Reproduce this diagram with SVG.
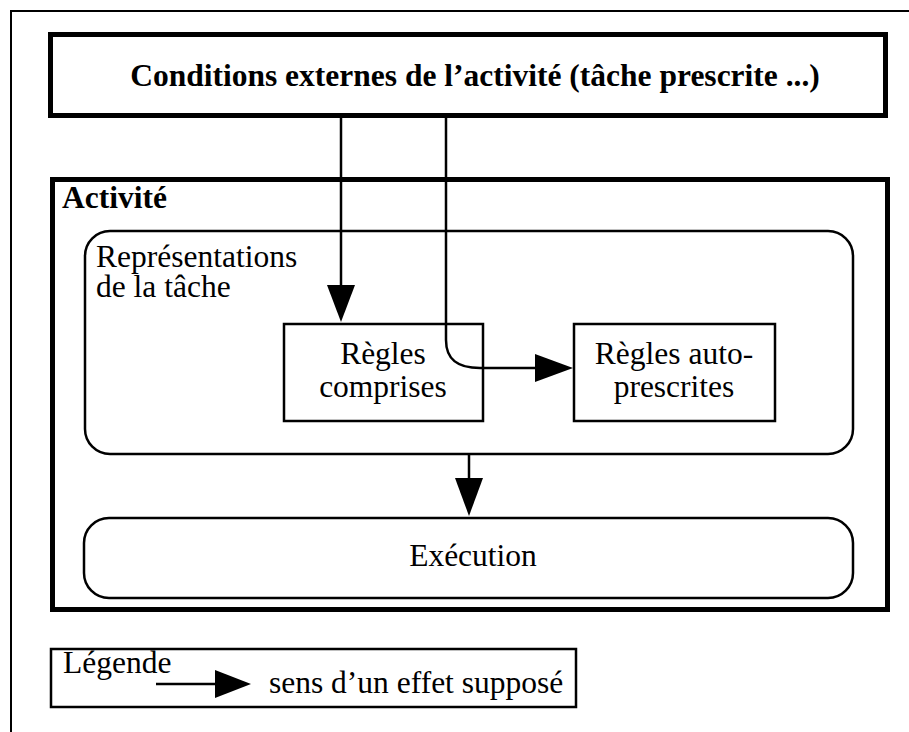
<svg xmlns="http://www.w3.org/2000/svg" width="909" height="732" viewBox="0 0 909 732">
<style>
text{font-family:"Liberation Serif","Times New Roman",serif;font-size:31.5px;fill:#000}
.b{font-weight:bold}
.m{text-anchor:middle}
.thick{fill:#fff;stroke:#000;stroke-width:5}
.thin{fill:#fff;stroke:#000;stroke-width:2.5}
.ln{fill:none;stroke:#000;stroke-width:2.5}
.ah{fill:#000;stroke:none}
</style>
<rect width="909" height="732" fill="#fff"/>
<rect id="frame" x="11" y="11" width="920" height="740" fill="none" stroke="#000" stroke-width="2"/>
<g id="conditions">
<rect class="thick" x="50.5" y="34.5" width="835" height="81"/>
<text class="b m" x="475" y="86">Conditions externes de l’activité (tâche prescrite ...)</text>
</g>
<g id="activite">
<rect class="thick" x="52.5" y="179.5" width="835" height="430"/>
<text class="b" x="62" y="208">Activité</text>
</g>
<g id="representations">
<rect class="thin" x="85" y="231" width="768" height="223" rx="25"/>
<text x="96" y="267">Représentations</text>
<text x="96" y="297">de la tâche</text>
</g>
<g id="regles-comprises">
<rect class="thin" x="284" y="324" width="199" height="97"/>
<text class="m" x="383" y="364">Règles</text>
<text class="m" x="383" y="397">comprises</text>
</g>
<g id="regles-auto">
<rect class="thin" x="574" y="324" width="201" height="97"/>
<text class="m" x="674" y="364">Règles auto-</text>
<text class="m" x="674" y="397">prescrites</text>
</g>
<g id="execution">
<rect class="thin" x="84" y="518" width="769" height="80" rx="25"/>
<text class="m" x="473" y="566">Exécution</text>
</g>
<g id="connectors">
<path class="ln" d="M341 118 V286"/>
<polygon class="ah" points="327,285 355,285 341,322"/>
<path class="ln" d="M446 118 V340 C446 360 458 368 480 368 H536"/>
<polygon class="ah" points="535,354 535,382 573,368"/>
<path class="ln" d="M469 454 V479"/>
<polygon class="ah" points="455,478 483,478 469,516"/>
</g>
<g id="legende">
<rect class="thin" x="51" y="649" width="525" height="58"/>
<text x="63" y="673">Légende</text>
<path class="ln" d="M156 684 H216"/>
<polygon class="ah" points="215,670 215,698 251,684"/>
<text x="269" y="693">sens d’un effet supposé</text>
</g>
</svg>
